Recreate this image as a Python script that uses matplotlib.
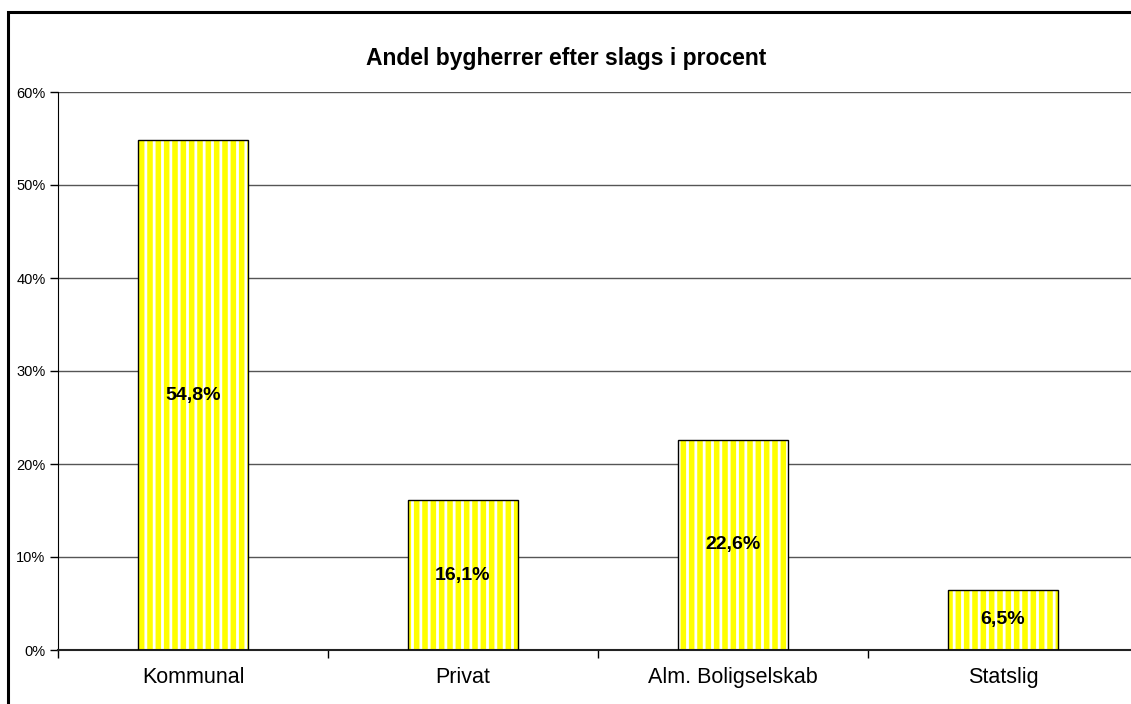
import matplotlib.pyplot as plt
from matplotlib.patches import Rectangle
from matplotlib.ticker import FuncFormatter, FixedLocator

categories = ["Kommunal", "Privat", "Alm. Boligselskab", "Statslig"]
values = [54.8, 16.1, 22.6, 6.5]
value_labels = ["54,8%", "16,1%", "22,6%", "6,5%"]
yticks = [0, 10, 20, 30, 40, 50, 60]

plt.rcParams["font.family"] = ["Liberation Sans", "DejaVu Sans"]
plt.rcParams["hatch.linewidth"] = 2.0

W, H = 1131, 704
fig = plt.figure(figsize=(W / 100, H / 100), dpi=100)
ax = fig.add_axes([58 / W, (H - 650) / H, 1080 / W, 558 / H])

x = range(len(categories))
ax.set_xlim(-0.5, len(categories) - 0.5)
ax.set_ylim(0, 60)

for yv in yticks[1:]:
    ax.axhline(yv, color="#555555", lw=1.0, zorder=0)

# striped fill, then black outline on top
ax.bar(x, values, width=0.41, color="#ffff00", edgecolor="white",
       hatch="||", linewidth=0, zorder=2)
ax.bar(x, values, width=0.41, fill=False, edgecolor="black",
       linewidth=1.0, zorder=3)

for xi, v, lab in zip(x, values, value_labels):
    ax.text(xi, v / 2, lab, ha="center", va="center", fontsize=14,
            fontweight="bold", zorder=4)

ax.set_yticks(yticks)
ax.yaxis.set_major_formatter(FuncFormatter(lambda v, p: "%d%%" % v))
ax.tick_params(axis="y", labelsize=10.5, length=6, width=1, direction="out",
               pad=3)

ax.set_xticks(list(x))
ax.set_xticklabels(categories, fontsize=15.5)
ax.tick_params(axis="x", which="major", length=0, pad=12)
ax.xaxis.set_minor_locator(FixedLocator([i + 0.5 for i in range(-1, 4)]))
ax.tick_params(axis="x", which="minor", length=6, width=1, direction="out")

for s in ["top", "right"]:
    ax.spines[s].set_visible(False)
ax.spines["left"].set_color("black")
ax.spines["bottom"].set_color("#222222")
ax.spines["bottom"].set_linewidth(1.5)

fig.text(566 / W, 1 - 58 / H, "Andel bygherrer efter slags i procent",
         ha="center", va="center", fontsize=16.5, fontweight="bold")

fig.patches.append(Rectangle((8 / W, -0.1), 1.2, 1 - 12 / H + 0.1,
                             transform=fig.transFigure, fill=False,
                             edgecolor="black", linewidth=2.2))

fig.savefig("out.png", dpi=100)
